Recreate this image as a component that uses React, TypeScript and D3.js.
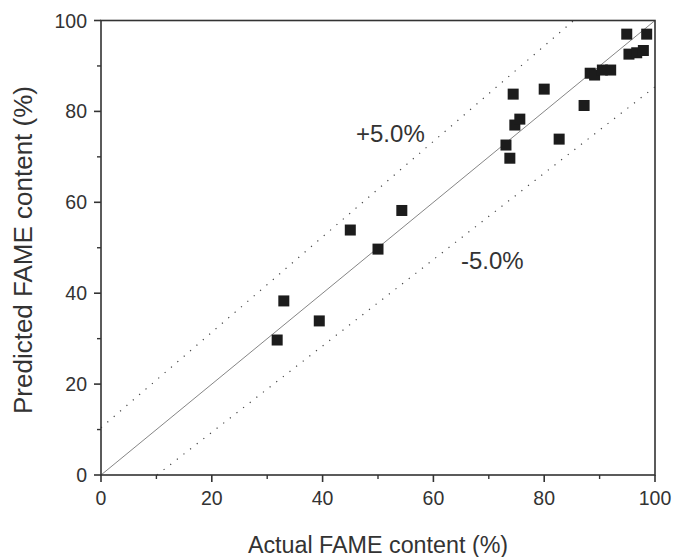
import React, { useEffect, useRef } from 'react';
import * as d3 from 'd3';

const actual = [31.8, 33.0, 39.4, 45.0, 50.0, 54.3, 73.1, 73.8, 74.4, 74.7, 75.6, 80.0, 82.7, 87.2, 88.3, 89.1, 90.5, 92.0, 94.9, 95.3, 96.7, 97.9, 98.5];
const predicted = [29.7, 38.3, 33.9, 53.9, 49.7, 58.2, 72.6, 69.7, 83.8, 77.0, 78.3, 84.9, 73.9, 81.3, 88.4, 88.0, 89.1, 89.1, 97.0, 92.6, 92.9, 93.4, 97.0];
const ticks = [0, 20, 40, 60, 80, 100];
const minorTicks = [10, 30, 50, 70, 90];
// dotted limit lines: predicted = slope * actual + offset
const limitSlopes = [1.05, 0.95];
const limitOffsets = [10.4, -9.6];

const App = () => {
  const svgRef = useRef<SVGSVGElement>(null);

  useEffect(() => {
    document.body.style.margin = '0';
    const svg = d3.select(svgRef.current);
    svg.selectAll('*').remove();

    const margin = { top: 20.5, right: 21, bottom: 82, left: 101 };
    const width = 676, height = 557;
    const x = d3.scaleLinear().domain([0, 100]).range([margin.left, width - margin.right]);
    const y = d3.scaleLinear().domain([0, 100]).range([height - margin.bottom, margin.top]);
    const font = 'Liberation Sans, Arial, sans-serif';
    const ink = '#333';

    // diagonal y = x
    svg.append('line')
      .attr('x1', x(0)).attr('y1', y(0)).attr('x2', x(100)).attr('y2', y(100))
      .attr('stroke', '#666').attr('stroke-width', 0.8);

    // +/- limit lines (dotted)
    limitSlopes.forEach((a, i) => {
      const b = limitOffsets[i];
      let x0 = 0, y0 = b;
      if (y0 < 0) { x0 = -b / a; y0 = 0; }
      let x1 = 100, y1 = a * 100 + b;
      if (y1 > 100) { x1 = (100 - b) / a; y1 = 100; }
      svg.append('line')
        .attr('x1', x(x0)).attr('y1', y(y0)).attr('x2', x(x1)).attr('y2', y(y1))
        .attr('stroke', '#444').attr('stroke-width', 1.2)
        .attr('stroke-dasharray', '1.2,7.2');
    });

    // frame
    svg.append('rect')
      .attr('x', x(0)).attr('y', y(100))
      .attr('width', x(100) - x(0)).attr('height', y(0) - y(100))
      .attr('fill', 'none').attr('stroke', ink).attr('stroke-width', 1.6);

    // ticks
    const g = svg.append('g');
    ticks.forEach(t => {
      g.append('line').attr('x1', x(t)).attr('x2', x(t)).attr('y1', y(0)).attr('y2', y(0) + 7)
        .attr('stroke', ink).attr('stroke-width', 1.6);
      g.append('line').attr('y1', y(t)).attr('y2', y(t)).attr('x1', x(0)).attr('x2', x(0) - 7)
        .attr('stroke', ink).attr('stroke-width', 1.6);
      g.append('text').attr('x', x(t)).attr('y', y(0) + 30)
        .attr('text-anchor', 'middle').attr('font-family', font).attr('font-size', 19.5)
        .attr('fill', ink).text(t);
      g.append('text').attr('x', x(0) - 14).attr('y', y(t) + 7)
        .attr('text-anchor', 'end').attr('font-family', font).attr('font-size', 19.5)
        .attr('fill', ink).text(t);
    });
    minorTicks.forEach(t => {
      g.append('line').attr('x1', x(t)).attr('x2', x(t)).attr('y1', y(0)).attr('y2', y(0) + 4)
        .attr('stroke', ink).attr('stroke-width', 1.4);
      g.append('line').attr('y1', y(t)).attr('y2', y(t)).attr('x1', x(0)).attr('x2', x(0) - 4)
        .attr('stroke', ink).attr('stroke-width', 1.4);
    });

    // points
    const s = 11;
    svg.append('g').selectAll('rect')
      .data(actual.map((a, i) => [a, predicted[i]]))
      .enter()
      .append('rect')
      .attr('x', d => x(d[0]) - s / 2)
      .attr('y', d => y(d[1]) - s / 2)
      .attr('width', s).attr('height', s)
      .attr('fill', '#1c1c1c');

    // band labels
    svg.append('text').attr('x', 356).attr('y', 142)
      .attr('font-family', font).attr('font-size', 24)
      .attr('fill', ink).text('+5.0%');
    svg.append('text').attr('x', 461).attr('y', 269)
      .attr('font-family', font).attr('font-size', 24)
      .attr('fill', ink).text('-5.0%');

    // axis titles
    svg.append('text').attr('x', 378).attr('y', 553)
      .attr('text-anchor', 'middle').attr('font-family', font).attr('font-size', 23.3)
      .attr('fill', ink).text('Actual FAME content (%)');
    svg.append('text')
      .attr('transform', `translate(32,250) rotate(-90)`)
      .attr('text-anchor', 'middle').attr('font-family', font).attr('font-size', 26)
      .attr('fill', ink).text('Predicted FAME content (%)');
  }, []);

  return <svg ref={svgRef} width={676} height={557} style={{ display: 'block' }}></svg>;
};

export default App;
